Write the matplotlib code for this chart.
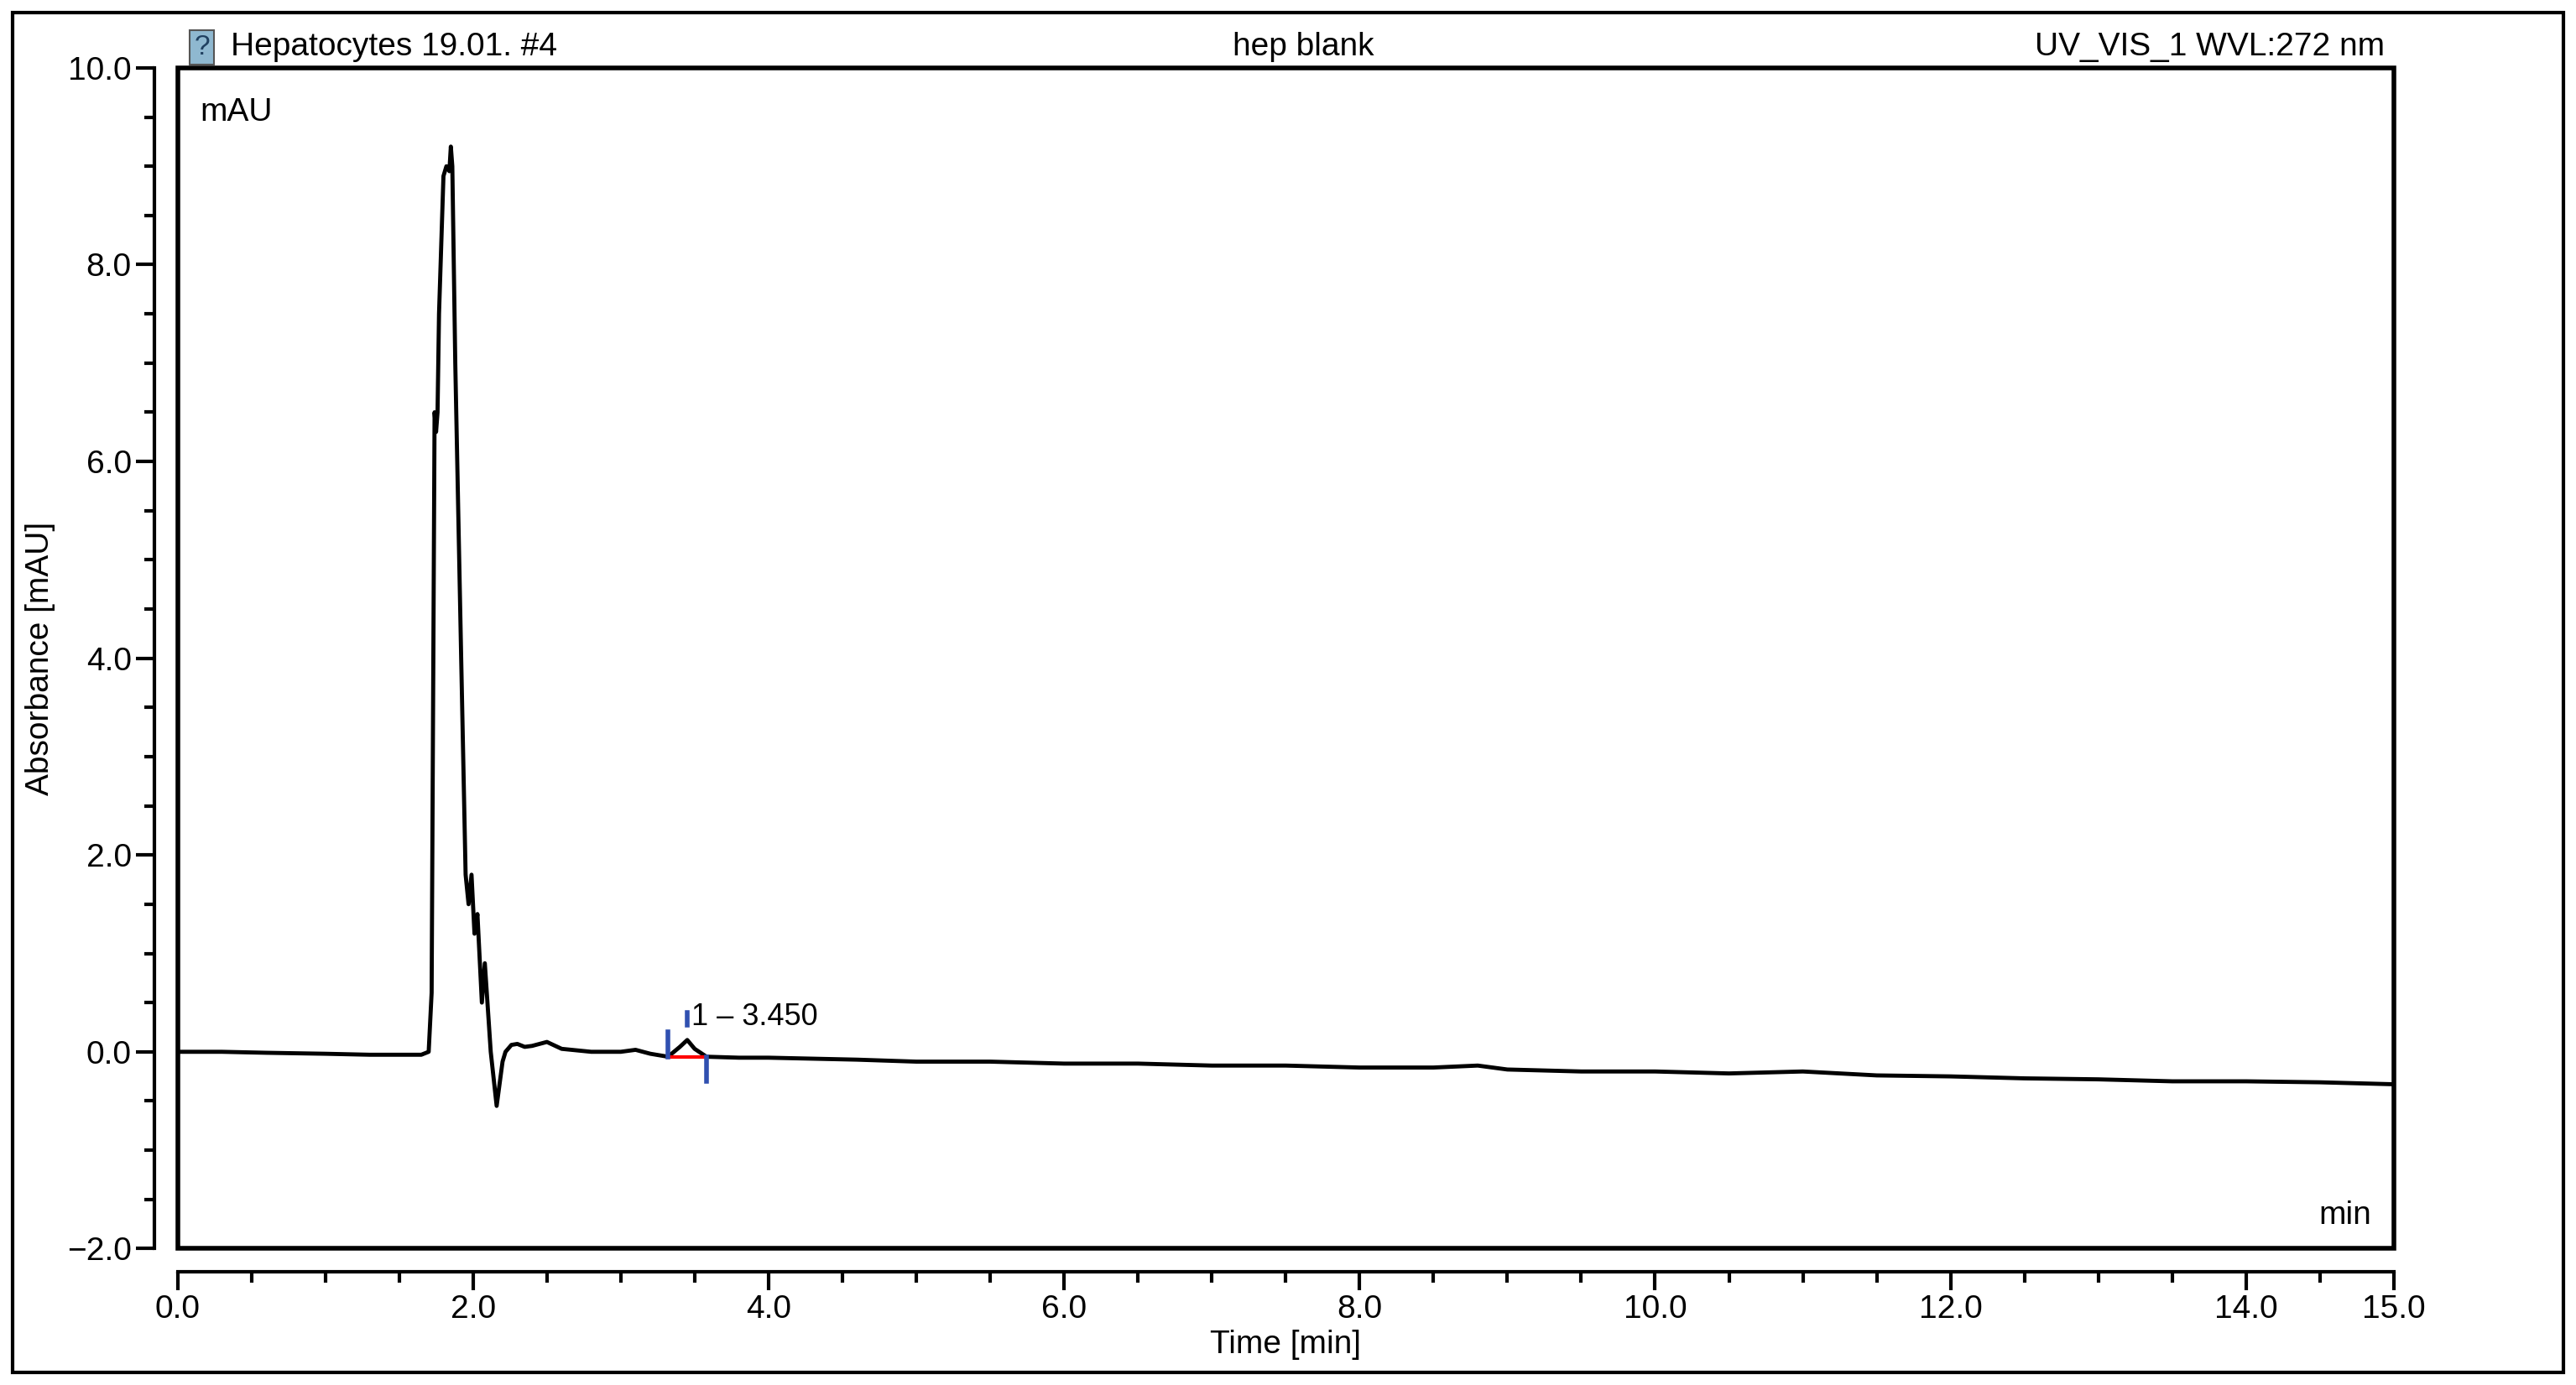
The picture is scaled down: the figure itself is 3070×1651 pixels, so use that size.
import matplotlib
matplotlib.use("Agg")
import matplotlib.pyplot as plt
from matplotlib.patches import Rectangle
from matplotlib.ticker import MultipleLocator, FixedLocator

plt.rcParams['font.family'] = ['Liberation Sans', 'DejaVu Sans']

# chromatogram trace (time [min], absorbance [mAU])
t = [0.0, 0.3, 0.6, 1.0, 1.3, 1.65, 1.70, 1.72, 1.74, 1.75, 1.76, 1.77, 1.80, 1.82, 1.84, 1.85, 1.86,
     1.88, 1.92, 1.95, 1.97, 1.99, 2.01, 2.03, 2.06, 2.08, 2.12, 2.16, 2.20, 2.22, 2.26, 2.30,
     2.35, 2.40, 2.45, 2.50, 2.60, 2.80, 3.00, 3.10, 3.20, 3.32, 3.40, 3.45, 3.50, 3.58, 3.80,
     4.0, 4.3, 4.6, 5.0, 5.5, 6.0, 6.5, 7.0, 7.5, 8.0, 8.5, 8.8, 9.0, 9.5, 10.0, 10.5, 11.0,
     11.5, 12.0, 12.5, 13.0, 13.5, 14.0, 14.5, 15.0]
absorb = [0.0, 0.0, -0.01, -0.02, -0.03, -0.03, 0.0, 0.6, 6.5, 6.3, 6.5, 7.5, 8.9, 9.0, 8.95, 9.2, 9.0,
          7.0, 4.0, 1.8, 1.5, 1.8, 1.2, 1.4, 0.5, 0.9, 0.0, -0.55, -0.1, 0.0, 0.07, 0.08,
          0.05, 0.06, 0.08, 0.1, 0.03, 0.0, 0.0, 0.02, -0.02, -0.05, 0.05, 0.12, 0.03, -0.05, -0.06,
          -0.06, -0.07, -0.08, -0.1, -0.1, -0.12, -0.12, -0.14, -0.14, -0.16, -0.16, -0.14, -0.18, -0.2, -0.2, -0.22, -0.2,
          -0.24, -0.25, -0.27, -0.28, -0.3, -0.3, -0.31, -0.33]

x_ticks = [0, 2, 4, 6, 8, 10, 12, 14, 15]
peak_label = "1 \u2013 3.450"
peak_start, peak_top, peak_end = 3.32, 3.45, 3.58

fig = plt.figure(figsize=(30.70, 16.51), dpi=100)
fig.patches.append(Rectangle((0.005, 0.009), 0.99, 0.982, transform=fig.transFigure,
                             fill=False, lw=3, ec='black'))
ax = fig.add_axes([0.0689, 0.0985, 0.8604, 0.8525])

ax.plot(t, absorb, color='black', lw=3.5)

# peak marks
ax.plot([peak_start, peak_end], [-0.05, -0.05], color='red', lw=3)
ax.plot([peak_start, peak_start], [-0.05, 0.2], color='#3050b0', lw=4)
ax.plot([peak_top, peak_top], [0.27, 0.4], color='#3050b0', lw=4)
ax.plot([peak_end, peak_end], [-0.05, -0.3], color='#3050b0', lw=4)
ax.text(3.48, 0.35, peak_label, fontsize=26, va='center')

ax.set_xlim(0, 15)
ax.set_ylim(-2, 10)
for s in ax.spines.values():
    s.set_visible(False)
ax.spines['left'].set_visible(True)
ax.spines['bottom'].set_visible(True)
ax.spines['left'].set_position(('outward', 20))
ax.spines['bottom'].set_position(('outward', 20))
ax.spines['left'].set_linewidth(3)
ax.spines['bottom'].set_linewidth(3)
ax.add_patch(Rectangle((0, 0), 1, 1, transform=ax.transAxes, fill=False, lw=4, ec='black', clip_on=False))

ax.xaxis.set_major_locator(FixedLocator(x_ticks))
ax.xaxis.set_minor_locator(MultipleLocator(0.5))
ax.yaxis.set_major_locator(MultipleLocator(2))
ax.yaxis.set_minor_locator(MultipleLocator(0.5))
ax.xaxis.set_major_formatter(lambda v, p: f"{v:.1f}")
ax.yaxis.set_major_formatter(lambda v, p: f"{v:.1f}".replace('-', '\u2212'))
ax.tick_params(which='major', length=16, width=3, labelsize=28)
ax.tick_params(which='minor', length=9, width=3)

ax.set_xlabel("Time [min]", fontsize=28, labelpad=4)
ax.set_ylabel("Absorbance [mAU]", fontsize=28, labelpad=10)

ax.text(0.01, 0.975, "mAU", transform=ax.transAxes, fontsize=28, va='top')
ax.text(0.99, 0.015, "min", transform=ax.transAxes, fontsize=28, ha='right', va='bottom')

# small icon in front of the sample name
ax.text(0.011, 1.006, "?", transform=ax.transAxes, fontsize=24, va='bottom', ha='center',
        color='#204060', bbox=dict(boxstyle='square,pad=0.15', fc='#8fb8d0', ec='#555555', lw=1.5))
ax.text(0.024, 1.005, "Hepatocytes 19.01. #4", transform=ax.transAxes, fontsize=28, va='bottom')
ax.text(0.508, 1.005, "hep blank", transform=ax.transAxes, fontsize=28, va='bottom', ha='center')
ax.text(0.996, 1.005, "UV_VIS_1 WVL:272 nm", transform=ax.transAxes, fontsize=28, va='bottom', ha='right')

fig.savefig("out.png", dpi=100)
